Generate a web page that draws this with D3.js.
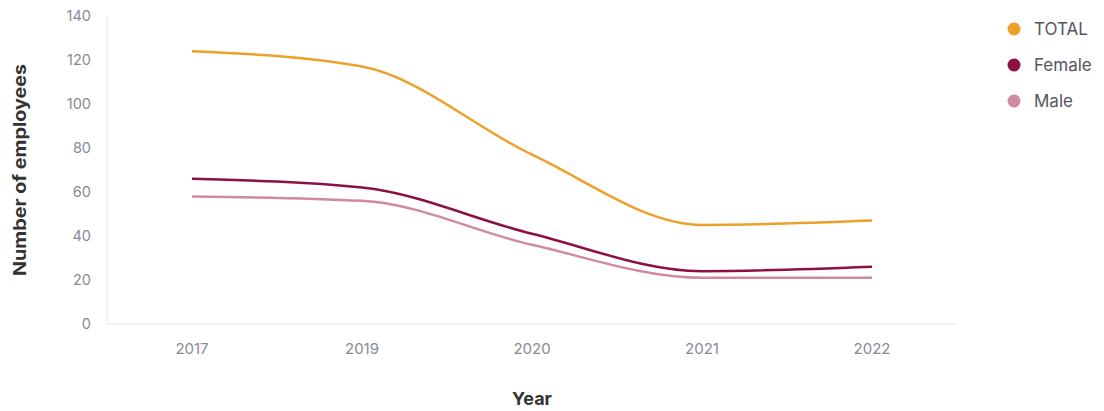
<!DOCTYPE html>
<html>
<head>
<meta charset="utf-8">
<script src="https://cdn.jsdelivr.net/npm/d3@7/dist/d3.min.js"></script>
<style>
  html, body { margin: 0; padding: 0; background: #fff; }
  svg { display: block; font-family: Inter, "Noto Sans", sans-serif; }
</style>
</head>
<body>
<svg id="chart" width="1104" height="411"></svg>
<script>
// Employee headcount by year
const years = ["2017", "2019", "2020", "2021", "2022"];
const seriesNames = ["TOTAL", "Female", "Male"];
const totalValues = [124, 117, 77, 45, 47];
const femaleValues = [66, 62, 41, 24, 26];
const maleValues = [58, 56, 36, 21, 21];
const yTicks = [0, 20, 40, 60, 80, 100, 120, 140];
const seriesColors = ["#eba12a", "#8c1042", "#cf8aa2"];

const series = [
  { name: seriesNames[0], values: totalValues, color: seriesColors[0] },
  { name: seriesNames[1], values: femaleValues, color: seriesColors[1] },
  { name: seriesNames[2], values: maleValues, color: seriesColors[2] }
];

const svg = d3.select("#chart");
const m = { left: 107, right: 957, top: 16, bottom: 324 };

const x = d3.scaleBand().domain(years).range([m.left, m.right]);
const y = d3.scaleLinear().domain([0, 140]).range([m.bottom, m.top]);

// axis lines
svg.append("line")
  .attr("x1", m.left).attr("x2", m.left)
  .attr("y1", m.top + 2).attr("y2", m.bottom)
  .attr("stroke", "#ececf3").attr("stroke-width", 1.5);
svg.append("line")
  .attr("x1", m.left).attr("x2", m.right)
  .attr("y1", m.bottom).attr("y2", m.bottom)
  .attr("stroke", "#ececf3").attr("stroke-width", 1.5);

// y tick labels
const yAxis = svg.append("g")
  .attr("transform", `translate(${m.left},0)`)
  .call(d3.axisLeft(y).tickValues(yTicks).tickSize(0).tickPadding(16));
yAxis.select(".domain").remove();
yAxis.selectAll("text")
  .attr("fill", "#8a8a94").style("font-size", "14.5px")
  .style("font-family", "Inter, 'Noto Sans', sans-serif");

// x tick labels
const xAxis = svg.append("g")
  .attr("transform", `translate(0,${m.bottom})`)
  .call(d3.axisBottom(x).tickSize(0).tickPadding(19));
xAxis.select(".domain").remove();
xAxis.selectAll("text")
  .attr("fill", "#8a8a94").style("font-size", "15px")
  .style("font-family", "Inter, 'Noto Sans', sans-serif");

// axis titles
svg.append("text")
  .attr("transform", "translate(26,170) rotate(-90)")
  .attr("text-anchor", "middle")
  .attr("textLength", 212).attr("lengthAdjust", "spacingAndGlyphs")
  .attr("fill", "#333").style("font-size", "17px").style("font-weight", "700")
  .text("Number of employees");
svg.append("text")
  .attr("x", (m.left + m.right) / 2).attr("y", 405)
  .attr("text-anchor", "middle")
  .attr("fill", "#333").style("font-size", "18px").style("font-weight", "700")
  .text("Year");

// lines
const line = d3.line()
  .x((d, i) => x(years[i]) + x.bandwidth() / 2)
  .y(d => y(d))
  .curve(d3.curveMonotoneX);

svg.append("g").selectAll("path")
  .data(series.slice().reverse())
  .join("path")
  .attr("d", d => line(d.values))
  .attr("fill", "none")
  .attr("stroke", d => d.color)
  .attr("stroke-width", 2.5)
  .attr("stroke-linecap", "butt");

// legend
const legend = svg.append("g").selectAll("g")
  .data(series)
  .join("g")
  .attr("transform", (d, i) => `translate(1014,${29 + i * 36})`);
legend.append("circle").attr("r", 6.5).attr("fill", d => d.color);
legend.append("text")
  .attr("x", 20).attr("dy", "0.35em")
  .attr("fill", "#55555e").style("font-size", "17px")
  .text(d => d.name);
</script>
</body>
</html>
